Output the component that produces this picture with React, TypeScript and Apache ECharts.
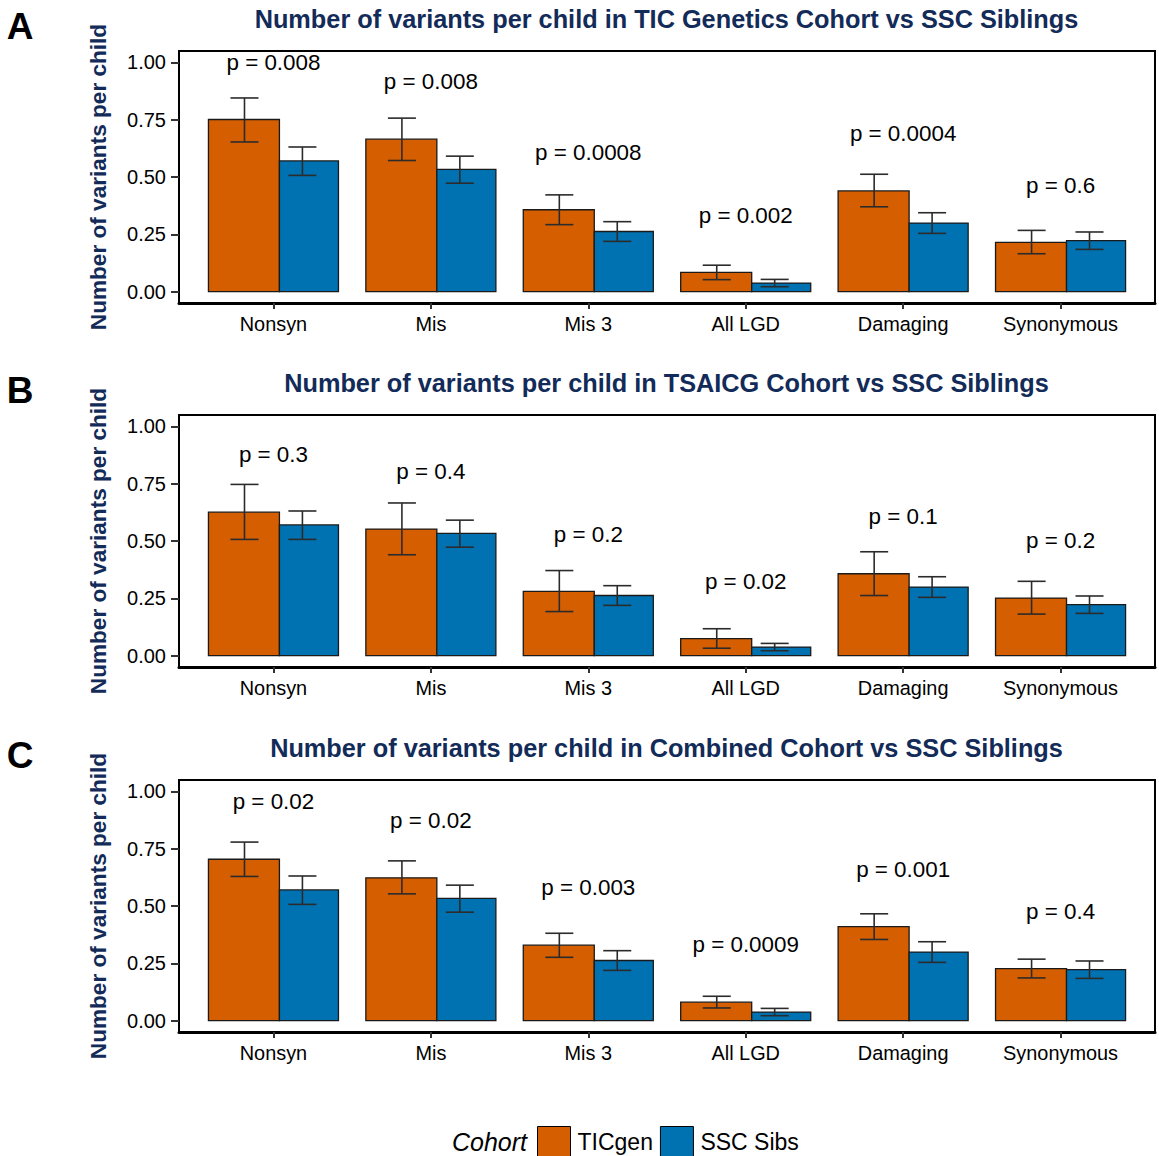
import React, { useEffect, useRef } from "react";
import * as echarts from "echarts";

const categories = ["Nonsyn", "Mis", "Mis 3", "All LGD", "Damaging", "Synonymous"];
const yTicks = [0, 0.25, 0.5, 0.75, 1];
const xTicks = [0, 1, 2, 3, 4, 5];

// SSC siblings (same in all panels)
const sibMean = [0.570, 0.533, 0.262, 0.037, 0.299, 0.222];
const sibLow = [0.507, 0.473, 0.219, 0.021, 0.254, 0.184];
const sibHigh = [0.631, 0.591, 0.305, 0.053, 0.344, 0.260];

// Panel A: TIC Genetics
const ticMeanA = [0.751, 0.665, 0.357, 0.084, 0.439, 0.215];
const ticLowA = [0.653, 0.572, 0.292, 0.052, 0.370, 0.165];
const ticHighA = [0.845, 0.757, 0.422, 0.115, 0.512, 0.267];
const pValsA = ["0.008", "0.008", "0.0008", "0.002", "0.0004", "0.6"];

// Panel B: TSAICG
const ticMeanB = [0.626, 0.552, 0.280, 0.074, 0.357, 0.251];
const ticLowB = [0.507, 0.440, 0.192, 0.032, 0.262, 0.181];
const ticHighB = [0.747, 0.666, 0.371, 0.117, 0.453, 0.324];
const pValsB = ["0.3", "0.4", "0.2", "0.02", "0.1", "0.2"];

// Panel C: Combined
const ticMeanC = [0.704, 0.623, 0.329, 0.080, 0.410, 0.227];
const ticLowC = [0.629, 0.553, 0.276, 0.055, 0.354, 0.186];
const ticHighC = [0.779, 0.697, 0.381, 0.106, 0.466, 0.268];
const pValsC = ["0.02", "0.02", "0.003", "0.0009", "0.001", "0.4"];

const titles = [
  "Number of variants per child in TIC Genetics Cohort vs SSC Siblings",
  "Number of variants per child in TSAICG Cohort vs SSC Siblings",
  "Number of variants per child in Combined Cohort vs SSC Siblings",
];
const letters = ["A", "B", "C"];
const yAxisTitle = "Number of variants per child";

const FONT = "'Liberation Sans', Arial, Helvetica, sans-serif";
const ORANGE = "#D55E00";
const BLUE = "#0072B2";
const NAVY = "#132b58";

const barRender = (left: number, right: number, errOff: number) => (params: any, api: any) => {
  const idx = api.value(0);
  const v = api.value(1);
  const lo = api.value(2);
  const hi = api.value(3);
  const band = api.size([1, 0])[0];
  const top = api.coord([idx, v]);
  const zero = api.coord([idx, 0]);
  const pLo = api.coord([idx, lo]);
  const pHi = api.coord([idx, hi]);
  const cx = top[0];
  const ex = cx + errOff * band;
  const cap = 0.089 * band;
  const es = { stroke: "#2b2b2b", lineWidth: 1.6 };
  return {
    type: "group",
    children: [
      {
        type: "rect",
        shape: { x: cx + left * band, y: top[1], width: (right - left) * band, height: zero[1] - top[1] },
        style: { fill: api.visual("color"), stroke: "#1a1a1a", lineWidth: 1.3 },
      },
      { type: "line", shape: { x1: ex, y1: pLo[1], x2: ex, y2: pHi[1] }, style: es },
      { type: "line", shape: { x1: ex - cap, y1: pHi[1], x2: ex + cap, y2: pHi[1] }, style: es },
      { type: "line", shape: { x1: ex - cap, y1: pLo[1], x2: ex + cap, y2: pLo[1] }, style: es },
    ],
  };
};

const labelRender = (pVals: string[]) => (params: any, api: any) => {
  const idx = api.value(0);
  const pt = api.coord([idx, api.value(1)]);
  return {
    type: "text",
    x: pt[0],
    y: pt[1],
    style: {
      text: "p = " + pVals[params.dataIndex],
      textAlign: "center",
      textVerticalAlign: "middle",
      fontSize: 22.4,
      fontFamily: FONT,
      fill: "#000",
    },
  };
};

export default function App() {
  const ref = useRef<HTMLDivElement>(null);
  useEffect(() => {
    if (!ref.current) return;
    const chart = echarts.init(ref.current, null, { renderer: "svg" });
    const panels = [
      { mean: ticMeanA, low: ticLowA, high: ticHighA, p: pValsA },
      { mean: ticMeanB, low: ticLowB, high: ticHighB, p: pValsB },
      { mean: ticMeanC, low: ticLowC, high: ticHighC, p: pValsC },
    ];
    const gridTops = [51, 415, 780];
    const gridLeft = 179;
    const gridWidth = 976;
    const gridHeight = 252;

    const grids = gridTops.map((t) => ({
      left: gridLeft,
      top: t,
      width: gridWidth,
      height: gridHeight,
      show: true,
      borderColor: "#000",
      borderWidth: 2,
      backgroundColor: "transparent",
    }));
    const xAxes = gridTops.map((_, i) => ({
      type: "value",
      gridIndex: i,
      min: -0.6,
      max: 5.6,
      splitLine: { show: false },
      axisLine: { show: true, onZero: false, lineStyle: { color: "#000", width: 3 } },
      axisTick: { show: true, customValues: xTicks, length: 6, lineStyle: { color: "#333", width: 2 } },
      axisLabel: {
        customValues: xTicks,
        formatter: (v: number) => categories[Math.round(v)],
        fontSize: 19.9,
        fontFamily: FONT,
        color: "#000",
        margin: 11,
      },
    }));
    const yAxes = gridTops.map((_, i) => ({
      type: "value",
      gridIndex: i,
      min: -0.05,
      max: 1.05,
      splitLine: { show: false },
      axisLine: { show: false, onZero: false },
      axisTick: { show: true, customValues: yTicks, length: 8, lineStyle: { color: "#333", width: 2 } },
      axisLabel: {
        customValues: yTicks,
        formatter: (v: number) => v.toFixed(2),
        fontSize: 20,
        fontFamily: FONT,
        color: "#000",
        margin: 13,
      },
    }));

    const series: any[] = [];
    panels.forEach((pn, i) => {
      series.push({
        type: "custom",
        name: "TICgen",
        xAxisIndex: i,
        yAxisIndex: i,
        itemStyle: { color: ORANGE, borderColor: "#000", borderWidth: 1 },
        renderItem: barRender(-0.413, 0.038, -0.184),
        encode: { x: 0, y: [1, 2, 3] },
        data: categories.map((_, k) => [k, pn.mean[k], pn.low[k], pn.high[k]]),
      });
      series.push({
        type: "custom",
        name: "SSC Sibs",
        xAxisIndex: i,
        yAxisIndex: i,
        itemStyle: { color: BLUE, borderColor: "#000", borderWidth: 1 },
        renderItem: barRender(0.038, 0.413, 0.184),
        encode: { x: 0, y: [1, 2, 3] },
        data: categories.map((_, k) => [k, sibMean[k], sibLow[k], sibHigh[k]]),
      });
      series.push({
        type: "custom",
        name: "pvalues" + i,
        xAxisIndex: i,
        yAxisIndex: i,
        renderItem: labelRender(pn.p),
        encode: { x: 0, y: 1 },
        data: categories.map((_, k) => [k, pn.mean[k] + 0.25]),
      });
    });

    const graphics: any[] = [];
    gridTops.forEach((t, i) => {
      graphics.push({
        type: "text",
        x: 20,
        y: t - 25,
        style: {
          text: letters[i],
          textAlign: "center",
          textVerticalAlign: "middle",
          fontSize: 37,
          fontWeight: "bold",
          fontFamily: FONT,
          fill: "#000",
        },
      });
      graphics.push({
        type: "text",
        x: gridLeft + gridWidth / 2 - 0.5,
        y: t - 32,
        style: {
          text: titles[i],
          textAlign: "center",
          textVerticalAlign: "middle",
          fontSize: 25.3,
          fontWeight: "bold",
          fontFamily: FONT,
          fill: NAVY,
        },
      });
      graphics.push({
        type: "text",
        x: 98,
        y: t + gridHeight / 2,
        rotation: Math.PI / 2,
        style: {
          text: yAxisTitle,
          textAlign: "center",
          textVerticalAlign: "middle",
          fontSize: 22.6,
          fontWeight: "bold",
          fontFamily: FONT,
          fill: NAVY,
        },
      });
    });
    graphics.push({
      type: "text",
      x: 527,
      y: 1142,
      style: {
        text: "Cohort",
        textAlign: "right",
        textVerticalAlign: "middle",
        fontSize: 25,
        fontStyle: "italic",
        fontFamily: FONT,
        fill: "#000",
      },
    });

    chart.setOption({
      animation: false,
      backgroundColor: "#fff",
      grid: grids,
      xAxis: xAxes,
      yAxis: yAxes,
      series,
      legend: {
        data: ["TICgen", "SSC Sibs"],
        left: 537,
        top: 1126,
        padding: 0,
        itemWidth: 33,
        itemHeight: 30,
        itemGap: 7,
        icon: "rect",
        selectedMode: false,
        itemStyle: { borderColor: "#000", borderWidth: 1 },
        textStyle: { fontSize: 23, fontFamily: FONT, color: "#000", padding: [0, 0, 0, 2] },
      },
      graphic: graphics,
    });
    return () => chart.dispose();
  }, []);
  return (
    <div
      ref={ref}
      style={{ position: "absolute", left: 0, top: 0, width: 1159, height: 1156 }}
    />
  );
}
